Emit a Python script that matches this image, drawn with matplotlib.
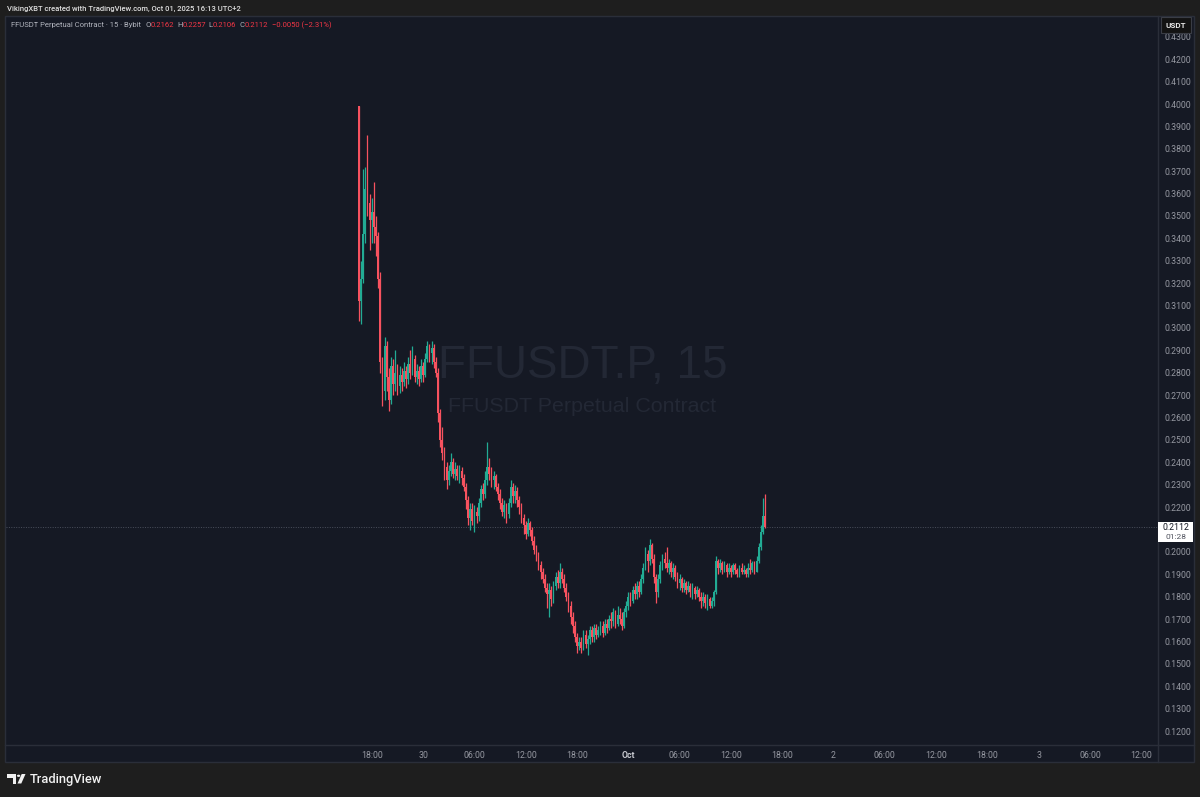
import matplotlib
matplotlib.use("Agg")
import matplotlib.pyplot as plt
from matplotlib.patches import Rectangle, Polygon, Circle
import numpy as np

# ---------------- data (15-minute candles, FFUSDT.P, Sep 29 16:30 -> Oct 1 16:00) ----------------
first_open = 0.399
closes = [
    0.312, 0.322, 0.342, 0.362, 0.356, 0.348, 0.352, 0.345, 0.341, 0.322,
    0.285, 0.272, 0.292, 0.278, 0.268, 0.283, 0.275, 0.280, 0.274, 0.279,
    0.276, 0.281, 0.277, 0.284, 0.280, 0.286, 0.278, 0.281, 0.277, 0.283,
    0.279, 0.286, 0.292, 0.289, 0.291, 0.285, 0.280, 0.262, 0.250, 0.244,
    0.238, 0.232, 0.236, 0.240, 0.235, 0.237, 0.234, 0.236, 0.233, 0.229,
    0.223, 0.215, 0.219, 0.214, 0.218, 0.216, 0.222, 0.228, 0.226, 0.232,
    0.238, 0.235, 0.232, 0.234, 0.229, 0.226, 0.222, 0.218, 0.221, 0.217,
    0.222, 0.229, 0.225, 0.227, 0.223, 0.220, 0.215, 0.212, 0.208, 0.213,
    0.210, 0.205, 0.201, 0.198, 0.194, 0.191, 0.188, 0.184, 0.181, 0.183,
    0.179, 0.185, 0.189, 0.186, 0.191, 0.188, 0.184, 0.180, 0.176, 0.171,
    0.167, 0.162, 0.158, 0.160, 0.157, 0.163, 0.159, 0.161, 0.165, 0.162,
    0.166, 0.163, 0.165, 0.167, 0.164, 0.168, 0.166, 0.170, 0.169, 0.173,
    0.168, 0.172, 0.170, 0.167, 0.173, 0.176, 0.180, 0.178, 0.183, 0.181,
    0.185, 0.182, 0.188, 0.193, 0.199, 0.196, 0.203, 0.197, 0.189, 0.182,
    0.188, 0.194, 0.197, 0.195, 0.193, 0.195, 0.191, 0.193, 0.189, 0.186,
    0.188, 0.184, 0.186, 0.183, 0.185, 0.182, 0.184, 0.181, 0.183, 0.180,
    0.178, 0.180, 0.177, 0.179, 0.176, 0.178, 0.182, 0.196, 0.193, 0.195,
    0.192, 0.194, 0.191, 0.193, 0.191, 0.194, 0.192, 0.190, 0.193, 0.191,
    0.192, 0.190, 0.193, 0.192, 0.195, 0.191, 0.196, 0.202, 0.209, 0.2162,
    0.2112,
]
highs = [
    0.399, 0.330, 0.371, 0.372, 0.386, 0.360, 0.358, 0.365, 0.350, 0.343,
    0.325, 0.287, 0.296, 0.294, 0.282, 0.287, 0.286, 0.290, 0.284, 0.283,
    0.282, 0.285, 0.283, 0.287, 0.290, 0.292, 0.288, 0.284, 0.283, 0.286,
    0.285, 0.289, 0.294, 0.293, 0.294, 0.293, 0.287, 0.282, 0.264, 0.256,
    0.247, 0.240, 0.239, 0.244, 0.242, 0.240, 0.239, 0.239, 0.238, 0.235,
    0.231, 0.225, 0.222, 0.222, 0.221, 0.220, 0.224, 0.230, 0.231, 0.236,
    0.249, 0.242, 0.238, 0.236, 0.235, 0.231, 0.228, 0.224, 0.223, 0.222,
    0.224, 0.232, 0.231, 0.230, 0.229, 0.225, 0.222, 0.217, 0.214, 0.215,
    0.214, 0.211, 0.207, 0.203, 0.200, 0.196, 0.193, 0.190, 0.186, 0.186,
    0.185, 0.187, 0.191, 0.192, 0.195, 0.193, 0.190, 0.186, 0.182, 0.178,
    0.173, 0.169, 0.164, 0.162, 0.162, 0.165, 0.165, 0.163, 0.167, 0.167,
    0.168, 0.168, 0.167, 0.169, 0.169, 0.170, 0.170, 0.172, 0.173, 0.175,
    0.174, 0.176, 0.175, 0.173, 0.175, 0.178, 0.182, 0.182, 0.185, 0.186,
    0.187, 0.187, 0.190, 0.195, 0.202, 0.201, 0.206, 0.204, 0.199, 0.190,
    0.190, 0.196, 0.199, 0.200, 0.202, 0.197, 0.196, 0.195, 0.194, 0.191,
    0.190, 0.189, 0.188, 0.187, 0.187, 0.186, 0.186, 0.185, 0.185, 0.184,
    0.182, 0.182, 0.181, 0.181, 0.180, 0.180, 0.183, 0.198, 0.197, 0.197,
    0.196, 0.196, 0.195, 0.195, 0.194, 0.195, 0.195, 0.193, 0.194, 0.195,
    0.194, 0.193, 0.195, 0.197, 0.196, 0.196, 0.198, 0.204, 0.212, 0.224,
    0.2257,
]
lows = [
    0.303, 0.302, 0.320, 0.338, 0.350, 0.335, 0.338, 0.338, 0.332, 0.318,
    0.280, 0.265, 0.268, 0.272, 0.263, 0.266, 0.270, 0.272, 0.270, 0.271,
    0.272, 0.274, 0.273, 0.275, 0.277, 0.279, 0.276, 0.275, 0.274, 0.276,
    0.276, 0.278, 0.285, 0.285, 0.284, 0.282, 0.278, 0.258, 0.247, 0.241,
    0.232, 0.228, 0.230, 0.234, 0.233, 0.232, 0.232, 0.231, 0.230, 0.227,
    0.219, 0.212, 0.210, 0.212, 0.209, 0.213, 0.214, 0.220, 0.223, 0.224,
    0.230, 0.232, 0.229, 0.228, 0.227, 0.223, 0.219, 0.216, 0.215, 0.213,
    0.215, 0.220, 0.222, 0.222, 0.220, 0.217, 0.213, 0.208, 0.206, 0.207,
    0.207, 0.203, 0.199, 0.196, 0.192, 0.188, 0.186, 0.182, 0.175, 0.171,
    0.176, 0.177, 0.183, 0.184, 0.184, 0.186, 0.182, 0.178, 0.173, 0.168,
    0.164, 0.160, 0.155, 0.156, 0.155, 0.156, 0.157, 0.154, 0.159, 0.160,
    0.160, 0.161, 0.162, 0.163, 0.162, 0.163, 0.164, 0.165, 0.166, 0.167,
    0.166, 0.167, 0.168, 0.165, 0.166, 0.171, 0.174, 0.176, 0.177, 0.179,
    0.179, 0.180, 0.181, 0.186, 0.192, 0.191, 0.194, 0.195, 0.186, 0.177,
    0.180, 0.186, 0.192, 0.193, 0.191, 0.190, 0.189, 0.188, 0.187, 0.184,
    0.183, 0.182, 0.182, 0.181, 0.182, 0.180, 0.179, 0.179, 0.180, 0.178,
    0.175, 0.176, 0.175, 0.174, 0.175, 0.175, 0.176, 0.181, 0.190, 0.191,
    0.190, 0.191, 0.189, 0.190, 0.189, 0.190, 0.190, 0.189, 0.189, 0.190,
    0.190, 0.189, 0.189, 0.190, 0.191, 0.190, 0.191, 0.195, 0.201, 0.208,
    0.2106,
]
x_tick_labels = ["18:00", "30", "06:00", "12:00", "18:00", "Oct", "06:00", "12:00",
                 "18:00", "2", "06:00", "12:00", "18:00", "3", "06:00", "12:00"]
price_tick_values = [0.12, 0.13, 0.14, 0.15, 0.16, 0.17, 0.18, 0.19, 0.20, 0.21,
                     0.22, 0.23, 0.24, 0.25, 0.26, 0.27, 0.28, 0.29, 0.30, 0.31,
                     0.32, 0.33, 0.34, 0.35, 0.36, 0.37, 0.38, 0.39, 0.40, 0.41,
                     0.42, 0.43]
last_price = 0.2112
countdown = "01:28"
symbol_title = "FFUSDT Perpetual Contract · 15 · Bybit"
ohlc_header = [("O", "0.2162"), ("H", "0.2257"), ("L", "0.2106"), ("C", "0.2112")]
change_text = "−0.0050 (−2.31%)"

# ---------------- styling ----------------
W, H = 1200, 797
OUTER_BG = "#1e1e1e"
PANE_BG = "#151924"
BORDER = "#2a2e39"
UP = "#22ab94"
DOWN = "#f7525f"
AXIS_TXT = "#9598a1"
FONT = ["Roboto", "DejaVu Sans"]
plt.rcParams["font.family"] = FONT


def fx(x):
    return x / W


def fy(y):
    return 1 - y / H


fig = plt.figure(figsize=(W / 100, H / 100), dpi=100, facecolor=OUTER_BG)

# pane background (plot + price scale + time scale)
fig.patches.append(Rectangle((fx(5), fy(762)), fx(1194) - fx(5), fy(16) - fy(762),
                             transform=fig.transFigure, facecolor=PANE_BG,
                             edgecolor=BORDER, linewidth=1.0, zorder=-5))

ax = fig.add_axes([fx(6), fy(745), fx(1158) - fx(6), fy(16) - fy(745)])
ax.set_zorder(2)
ax.set_facecolor("none")
for s in ax.spines.values():
    s.set_visible(False)

n = len(closes)
idx = np.arange(n)
c = np.array(closes)
o = np.array([first_open] + closes[:-1])
h = np.maximum(np.array(highs), np.maximum(o, c))
l = np.minimum(np.array(lows), np.minimum(o, c))
up = c >= o
cols = np.where(up, UP, DOWN)

ax.vlines(idx, l, h, colors=cols, linewidth=0.9, zorder=3)
body_bottom = np.minimum(o, c)
body_h = np.maximum(np.abs(c - o), 0.0005)
ax.bar(idx, body_h, bottom=body_bottom, width=0.8, color=cols, linewidth=0, zorder=4)

# last price dotted line
ax.axhline(last_price, color="#4a4f5c", linewidth=0.7, linestyle=(0, (1, 1.5)), zorder=2)

# limits (15 min = 2.1375 px, first candle at x=359)
ax.set_xlim(-165.1, 373.8)
ax.set_ylim(0.1138, 0.4393)

# time axis
tick_pos = [6 + 24 * k for k in range(len(x_tick_labels))]
ax.set_xticks(tick_pos)
ax.set_xticklabels(x_tick_labels)
ax.tick_params(axis="x", length=0, pad=4.5, labelsize=6.3, labelcolor=AXIS_TXT)
for lab in ax.get_xticklabels():
    if lab.get_text() == "Oct":
        lab.set_fontweight("bold")
        lab.set_color("#c8cad0")

# price axis (the label under the last-price box is hidden, as on the chart)
ax.yaxis.tick_right()
ax.set_yticks(price_tick_values)
ax.set_yticklabels(["" if abs(v - 0.21) < 1e-9 else f"{v:.4f}" for v in price_tick_values])
ax.tick_params(axis="y", length=0, pad=5, labelsize=6.3, labelcolor=AXIS_TXT)
ax.grid(False)

# separators
fig.add_artist(plt.Line2D([fx(5), fx(1194)], [fy(745), fy(745)], transform=fig.transFigure,
                          color=BORDER, linewidth=1.0, zorder=1))
fig.add_artist(plt.Line2D([fx(1158), fx(1158)], [fy(16), fy(762)], transform=fig.transFigure,
                          color=BORDER, linewidth=1.0, zorder=1))

# watermark
fig.text(fx(583), fy(366), "FFUSDT.P, 15", ha="center", va="center", fontsize=33,
         color="#232835", family=["Liberation Sans", "DejaVu Sans"], zorder=1)
fig.text(fx(582), fy(406), "FFUSDT Perpetual Contract", ha="center", va="center",
         fontsize=15.4, color="#232835", family=["Liberation Sans", "DejaVu Sans"], zorder=1)

# header line (outside pane)
fig.text(fx(7), fy(9), "VikingXBT created with TradingView.com, Oct 01, 2025 16:13 UTC+2",
         ha="left", va="center", fontsize=5.5, color="#e0e0e0", fontweight="medium")

# legend line inside pane, chained left to right
renderer = fig.canvas.get_renderer()
LEG_FS = 5.5


def put(xpix, s, color, gap=0.0):
    t = fig.text(fx(xpix), fy(25), s, ha="left", va="center", fontsize=LEG_FS, color=color,
                 zorder=6)
    bb = t.get_window_extent(renderer=renderer)
    return bb.x1 + gap


xp = put(11, symbol_title, "#b2b5be", gap=4)
for lab, val in ohlc_header:
    xp = put(xp, lab, "#b2b5be")
    xp = put(xp, val, "#f23645", gap=3)
xp = put(xp + 1, change_text, "#f23645")

# currency box
fig.patches.append(Rectangle((fx(1161), fy(33)), fx(30), fy(17) - fy(33), transform=fig.transFigure,
                             facecolor="#131313", edgecolor="#3a3d45", linewidth=0.8, zorder=5))
fig.text(fx(1176), fy(25), "USDT", ha="center", va="center", fontsize=5.8, color="#e6e6e6",
         fontweight="bold", zorder=6)

# last price label box
fig.patches.append(Rectangle((fx(1158), fy(542)), fx(1193) - fx(1158), fy(522) - fy(542),
                             transform=fig.transFigure, facecolor="#ffffff", edgecolor="none",
                             zorder=5))
fig.text(fx(1175.5), fy(528), f"{last_price:.4f}", ha="center", va="center", fontsize=6.3,
         color="#131722", zorder=6)
fig.text(fx(1175.5), fy(537), countdown, ha="center", va="center", fontsize=6.0,
         color="#50535e", zorder=6)

# TradingView logo
logo_col = "#f0f0f0"
fig.patches.append(Polygon([(fx(7), fy(774)), (fx(16), fy(774)), (fx(16), fy(783.5)),
                            (fx(12.5), fy(783.5)), (fx(12.5), fy(777.5)), (fx(7), fy(777.5))],
                           closed=True, transform=fig.transFigure, facecolor=logo_col,
                           edgecolor="none"))
fig.patches.append(Circle((fx(18.6), fy(775.8)), 1.7 / W, transform=fig.transFigure,
                          facecolor=logo_col, edgecolor="none"))
fig.patches.append(Polygon([(fx(17.5), fy(783.5)), (fx(21.3), fy(783.5)), (fx(25.5), fy(774)),
                            (fx(21.7), fy(774))], closed=True, transform=fig.transFigure,
                           facecolor=logo_col, edgecolor="none"))
fig.text(fx(29.5), fy(779), "TradingView", ha="left", va="center", fontsize=9.3,
         color=logo_col, fontweight="medium")

fig.savefig("out.png", dpi=100, facecolor=fig.get_facecolor())
